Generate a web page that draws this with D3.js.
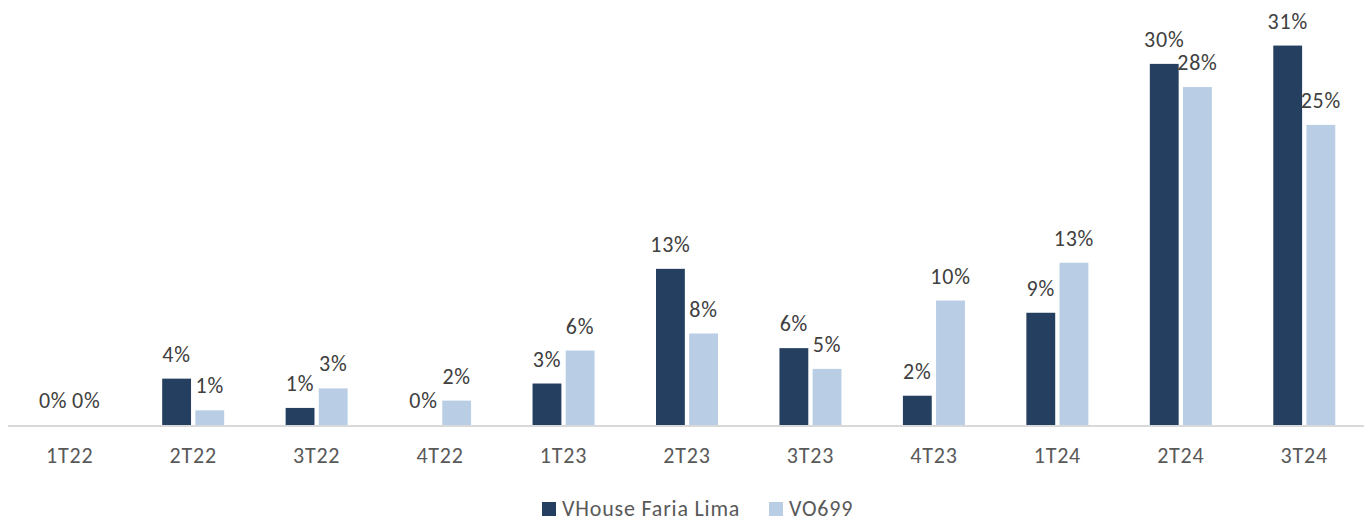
<!DOCTYPE html>
<html>
<head>
<meta charset="utf-8">
<script src="https://cdn.jsdelivr.net/npm/d3@7"></script>
<style>
  body { margin: 0; background: #fff; }
  #chart { width: 1371px; height: 522px; }
  text { font-family: Carlito, Calibri, Lato, sans-serif; letter-spacing: 0.8px; }
</style>
</head>
<body>
<div id="chart"></div>
<script>
var categories = ["1T22", "2T22", "3T22", "4T22", "1T23", "2T23", "3T23", "4T23", "1T24", "2T24", "3T24"]
var seriesNames = ["VHouse Faria Lima", "VO699"]
var vhouse = [0, 3.8, 1.4, 0, 3.4, 12.8, 6.3, 2.4, 9.2, 29.6, 31.1]
var vo699 = [0, 1.2, 3.0, 2.0, 6.1, 7.5, 4.6, 10.2, 13.3, 27.7, 24.6]
var colors = ["#253f61", "#b9cde5"]

var width = 1371, height = 522
var fontSize = 22
var svg = d3.select("#chart").append("svg")
    .attr("width", width)
    .attr("height", height)

var x = d3.scaleBand().domain(categories).range([8, 1366])
var xs = d3.scaleBand().domain([0, 1]).range([-31, 31]).paddingInner(0.13)
var y = d3.scaleLinear().domain([0, 35]).range([425, 425 - 35 * 12.2])

var rows = categories.map(function(c, i) {
  return { cat: c, vals: [vhouse[i], vo699[i]] }
})

var groups = svg.selectAll("g.cat").data(rows).enter().append("g")
    .attr("class", "cat")
    .attr("transform", function(d) { return "translate(" + (x(d.cat) + x.bandwidth() / 2) + ",0)" })

groups.selectAll("rect").data(function(d) { return d.vals }).enter().append("rect")
    .attr("x", function(d, i) { return xs(i) })
    .attr("width", xs.bandwidth())
    .attr("y", function(d) { return y(d) })
    .attr("height", function(d) { return y(0) - y(d) })
    .attr("fill", function(d, i) { return colors[i] })

groups.selectAll("text.lbl").data(function(d) { return d.vals }).enter().append("text")
    .attr("class", "lbl")
    .attr("x", function(d, i) { return xs(i) + xs.bandwidth() / 2 })
    .attr("y", function(d) { return y(d) - 17 })
    .attr("text-anchor", "middle")
    .attr("font-size", fontSize)
    .attr("fill", "#404040")
    .text(function(d) { return Math.round(d) + "%" })

// baseline
svg.append("line")
    .attr("x1", 8).attr("x2", 1364)
    .attr("y1", y(0) + 1).attr("y2", y(0) + 1)
    .attr("stroke", "#d9d9d9").attr("stroke-width", 2)

var xAxis = svg.append("g")
    .attr("transform", "translate(0," + (y(0) + 2) + ")")
    .call(d3.axisBottom(x).tickSize(0))
xAxis.select(".domain").remove()
xAxis.selectAll("text")
    .attr("y", 36).attr("dy", 0)
    .attr("font-size", fontSize)
    .attr("fill", "#595959")
    .style("font-family", "Carlito, Calibri, Lato, sans-serif")

// legend
var legendX = [542, 769]
var legend = svg.selectAll("g.legend").data(seriesNames).enter().append("g")
    .attr("class", "legend")
    .attr("transform", function(d, i) { return "translate(" + legendX[i] + ",502)" })
legend.append("rect")
    .attr("width", 14).attr("height", 14)
    .attr("fill", function(d, i) { return colors[i] })
legend.append("text")
    .attr("x", 20).attr("y", 14)
    .attr("font-size", fontSize)
    .attr("fill", "#595959")
    .text(function(d) { return d })
</script>
</body>
</html>
